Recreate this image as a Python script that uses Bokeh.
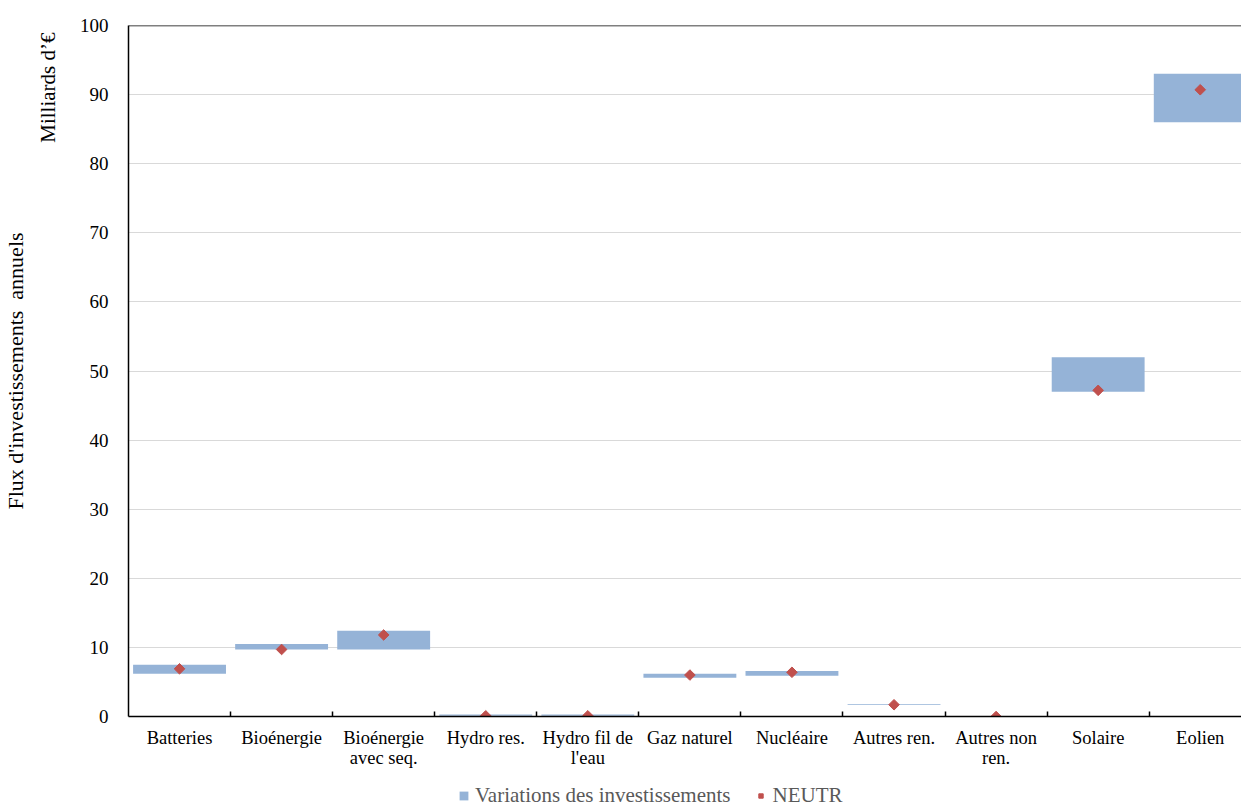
import numpy as np
from bokeh.plotting import figure
from bokeh.layouts import column
from bokeh.models import (Range1d, FixedTicker, Legend, LegendItem, Title, Span,
                          ColumnDataSource)
from bokeh.embed import file_html
from bokeh.resources import INLINE

# ---- data ----
categories = ["Batteries", "Bioénergie", "Bioénergie\navec seq.", "Hydro res.",
              "Hydro fil de\nl'eau", "Gaz naturel", "Nucléaire", "Autres ren.",
              "Autres non\nren.", "Solaire", "Eolien"]
inv_low = [6.2, 9.7, 9.7, 0.1, 0.1, 5.6, 5.9, 1.65, 0.0, 47.0, 86.0]
inv_high = [7.5, 10.5, 12.4, 0.3, 0.3, 6.2, 6.6, 1.78, 0.0, 52.0, 93.0]
neutr = [6.9, 9.7, 11.8, 0.1, 0.1, 6.0, 6.4, 1.7, 0.0, 47.2, 90.7]
y_ticks = [0, 10, 20, 30, 40, 50, 60, 70, 80, 90, 100]
series_names = ["Variations des investissements", "NEUTR"]

FONT = "Liberation Serif"
BAR = "#95B3D7"
RED = "#C0504D"

x = list(range(1, len(categories) + 1))
src = ColumnDataSource(dict(x=x, low=inv_low, high=inv_high, neutr=neutr))

frame_w = 1113
frame_h = 691
top_b, bot_b, left_b = 25, 60, 128
cat_px = 102.07
p = figure(frame_width=frame_w, frame_height=frame_h, output_backend="svg",
           toolbar_location=None,
           x_range=Range1d(0.5, 0.5 + frame_w / cat_px), y_range=Range1d(0, 100),
           min_border_left=left_b, min_border_right=0, min_border_top=top_b,
           min_border_bottom=bot_b)
p.outline_line_color = None
p.background_fill_color = "white"
p.border_fill_color = "white"

bars = p.vbar(x="x", bottom="low", top="high", width=0.91, source=src,
              fill_color=BAR, line_color=None)
pts = p.scatter(x="x", y="neutr", source=src, marker="square", angle=np.pi / 4,
                size=7.5, fill_color=RED, line_color=RED)

# top border
p.add_layout(Span(location=100, dimension="width", line_color="black", line_width=1.5))

# x axis
xa = p.xaxis[0]
xa.ticker = FixedTicker(ticks=x, minor_ticks=[i + 0.5 for i in x[:-1]])
xa.major_label_overrides = {i: c for i, c in zip(x, categories)}
xa.major_tick_line_color = None
xa.minor_tick_in = 5
xa.minor_tick_out = 0
xa.minor_tick_line_color = "black"
xa.minor_tick_line_width = 1.5
xa.axis_line_color = "black"
xa.axis_line_width = 1.5
xa.major_label_text_font = FONT
xa.major_label_text_font_size = "18.5px"
xa.major_label_text_line_height = 1.0
xa.major_label_text_color = "black"
xa.major_label_standoff = 5
p.xgrid.visible = False

# y axis
ya = p.yaxis[0]
ya.ticker = FixedTicker(ticks=y_ticks)
ya.major_tick_line_color = None
ya.minor_tick_line_color = None
ya.axis_line_color = "black"
ya.axis_line_width = 1.5
ya.major_label_text_font = FONT
ya.major_label_text_font_size = "19px"
ya.major_label_text_color = "black"
ya.major_label_standoff = 14
p.ygrid.grid_line_color = "#D9D9D9"
p.ygrid.grid_line_width = 1

# y titles
t1 = Title(text="Milliards d’€", align="right", offset=7, standoff=33, text_font=FONT,
           text_font_size="21px", text_font_style="normal", text_color="black")
p.add_layout(t1, "left")
t2 = Title(text="Flux d'investissements\u00a0\u00a0annuels", align="center", standoff=-20,
           text_font=FONT, text_font_size="22px", text_font_style="normal",
           text_color="black")
p.add_layout(t2, "left")

# legend strip below the chart (its frame is aligned with the main frame)
leg_h = 808 - (top_b + frame_h + bot_b)
p2 = figure(width=1241, height=leg_h, output_backend="svg", toolbar_location=None,
            x_range=Range1d(0, 1), y_range=Range1d(0, 1),
            x_axis_type=None, y_axis_type=None, min_border=0)
p2.outline_line_color = None
p2.grid.visible = False
lb = p2.vbar(x=[np.nan], top=[np.nan], width=1, fill_color=BAR, line_color=None)
lp = p2.scatter(x=[np.nan], y=[np.nan], marker="square", angle=np.pi / 4, size=7.5,
                fill_color=RED, line_color=RED)
legend = Legend(items=[LegendItem(label=series_names[0], renderers=[lb]),
                       LegendItem(label=series_names[1], renderers=[lp])],
                orientation="horizontal", location=(458 - left_b, 0),
                label_text_font=FONT, label_text_font_size="21px",
                label_text_color="#595959", glyph_width=11, glyph_height=11,
                label_standoff=6, spacing=25, padding=0, margin=0,
                border_line_color=None, background_fill_alpha=0)
p2.add_layout(legend)

layout = column(p, p2, spacing=0)
open("out.html", "w").write(file_html(layout, INLINE))
